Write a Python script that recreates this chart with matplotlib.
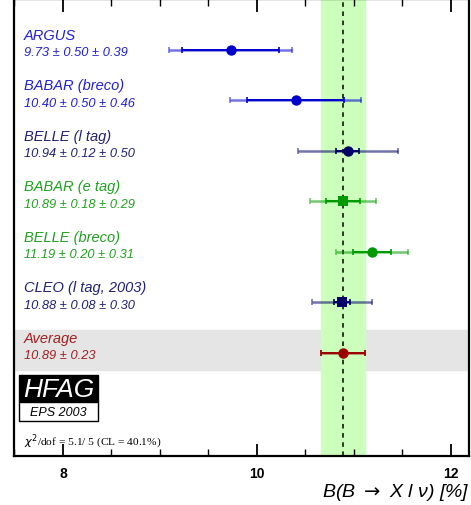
import numpy as np
import matplotlib.pyplot as plt
from matplotlib.patches import Rectangle

names = ["ARGUS", "BABAR (breco)", "BELLE (l tag)", "BABAR (e tag)",
         "BELLE (breco)", "CLEO (l tag, 2003)", "Average"]
values = [9.73, 10.40, 10.94, 10.89, 11.19, 10.88, 10.89]
stat = [0.50, 0.50, 0.12, 0.18, 0.20, 0.08, 0.23]
syst = [0.39, 0.46, 0.50, 0.29, 0.31, 0.30, 0.0]
labels = ["9.73 ± 0.50 ± 0.39", "10.40 ± 0.50 ± 0.46", "10.94 ± 0.12 ± 0.50",
          "10.89 ± 0.18 ± 0.29", "11.19 ± 0.20 ± 0.31", "10.88 ± 0.08 ± 0.30",
          "10.89 ± 0.23"]
markers = ["o", "o", "o", "s", "o", "s", "o"]
colors = ["#0000cc", "#0000cc", "#000066", "#009900", "#009900", "#000066", "#990000"]
text_colors = ["#2020d0", "#2020d0", "#202070", "#20a020", "#20a020", "#202070", "#a02020"]
avg, avg_err = 10.89, 0.23

plt.rcParams['font.family'] = ['Liberation Sans', 'DejaVu Sans']
fig = plt.figure(figsize=(4.71, 5.06), dpi=100)
ax = fig.add_axes([14 / 471, 1 - 457 / 506, 455 / 471, 457 / 506])

ax.set_xlim(7.495, 12.19)
ax.set_ylim(8.04, -1.01)

# average band
ax.axvspan(avg - avg_err, avg + avg_err, color="#ccffbb", zorder=0)
ax.axhspan(5.55, 6.34, color="#e5e5e5", zorder=-1)
ax.axvline(avg, color="black", ls=(0, (3, 3)), lw=1.1, zorder=1)

for i in range(len(names)):
    tot = np.sqrt(stat[i] ** 2 + syst[i] ** 2)
    c = colors[i]
    ax.errorbar(values[i], i, xerr=tot, fmt="none", ecolor=c, alpha=0.55,
                elinewidth=1.8, capsize=2, capthick=1.2, zorder=2)
    ax.errorbar(values[i], i, xerr=stat[i], fmt="none", ecolor=c,
                elinewidth=1.4, capsize=2, capthick=1.2, zorder=3)
    ax.plot(values[i], i, marker=markers[i], color=c, ms=7.5, mew=0, zorder=4)
    ax.text(7.6, i - 0.3, names[i], color=text_colors[i], style="italic",
            fontsize=10.5, va="center")
    ax.text(7.6, i + 0.04, labels[i], color=text_colors[i], style="italic",
            fontsize=9.3, va="center")

# HFAG logo
x0, x1 = 7.55, 8.36
ax.add_patch(Rectangle((x0, 6.43), x1 - x0, 0.55, facecolor="black",
                       edgecolor="black", lw=1, zorder=5))
ax.add_patch(Rectangle((x0, 6.98), x1 - x0, 0.37, facecolor="white",
                       edgecolor="black", lw=1, zorder=5))
ax.text((x0 + x1) / 2, 6.72, "HFAG", color="white", style="italic",
        fontsize=19, ha="center", va="center", zorder=6)
ax.text((x0 + x1) / 2, 7.17, "EPS 2003", color="black", style="italic",
        fontsize=9, ha="center", va="center", zorder=6)

ax.text(7.6, 7.75, r"$\chi^2$/dof = 5.1/ 5 (CL = 40.1%)",
        family="Liberation Serif", fontsize=8.2, va="center")

ax.set_xticks([8, 10, 12])
ax.set_xticks(np.arange(7.5, 12.2, 0.5), minor=True)
ax.set_yticks([])
ax.tick_params(axis="x", which="major", direction="in", length=9, width=1.3,
               top=True, labelsize=10, pad=7)
ax.tick_params(axis="x", which="minor", direction="in", length=5, width=1,
               top=True)
for lab in ax.get_xticklabels():
    lab.set_fontweight("bold")
for s in ax.spines.values():
    s.set_linewidth(1.6)

fig.text(0.998, 1 - 493 / 506, r"B(B $\rightarrow$ X l ν) [%]", style="italic",
         ha="right", va="center", fontsize=14)

fig.savefig("out.png", dpi=100)
